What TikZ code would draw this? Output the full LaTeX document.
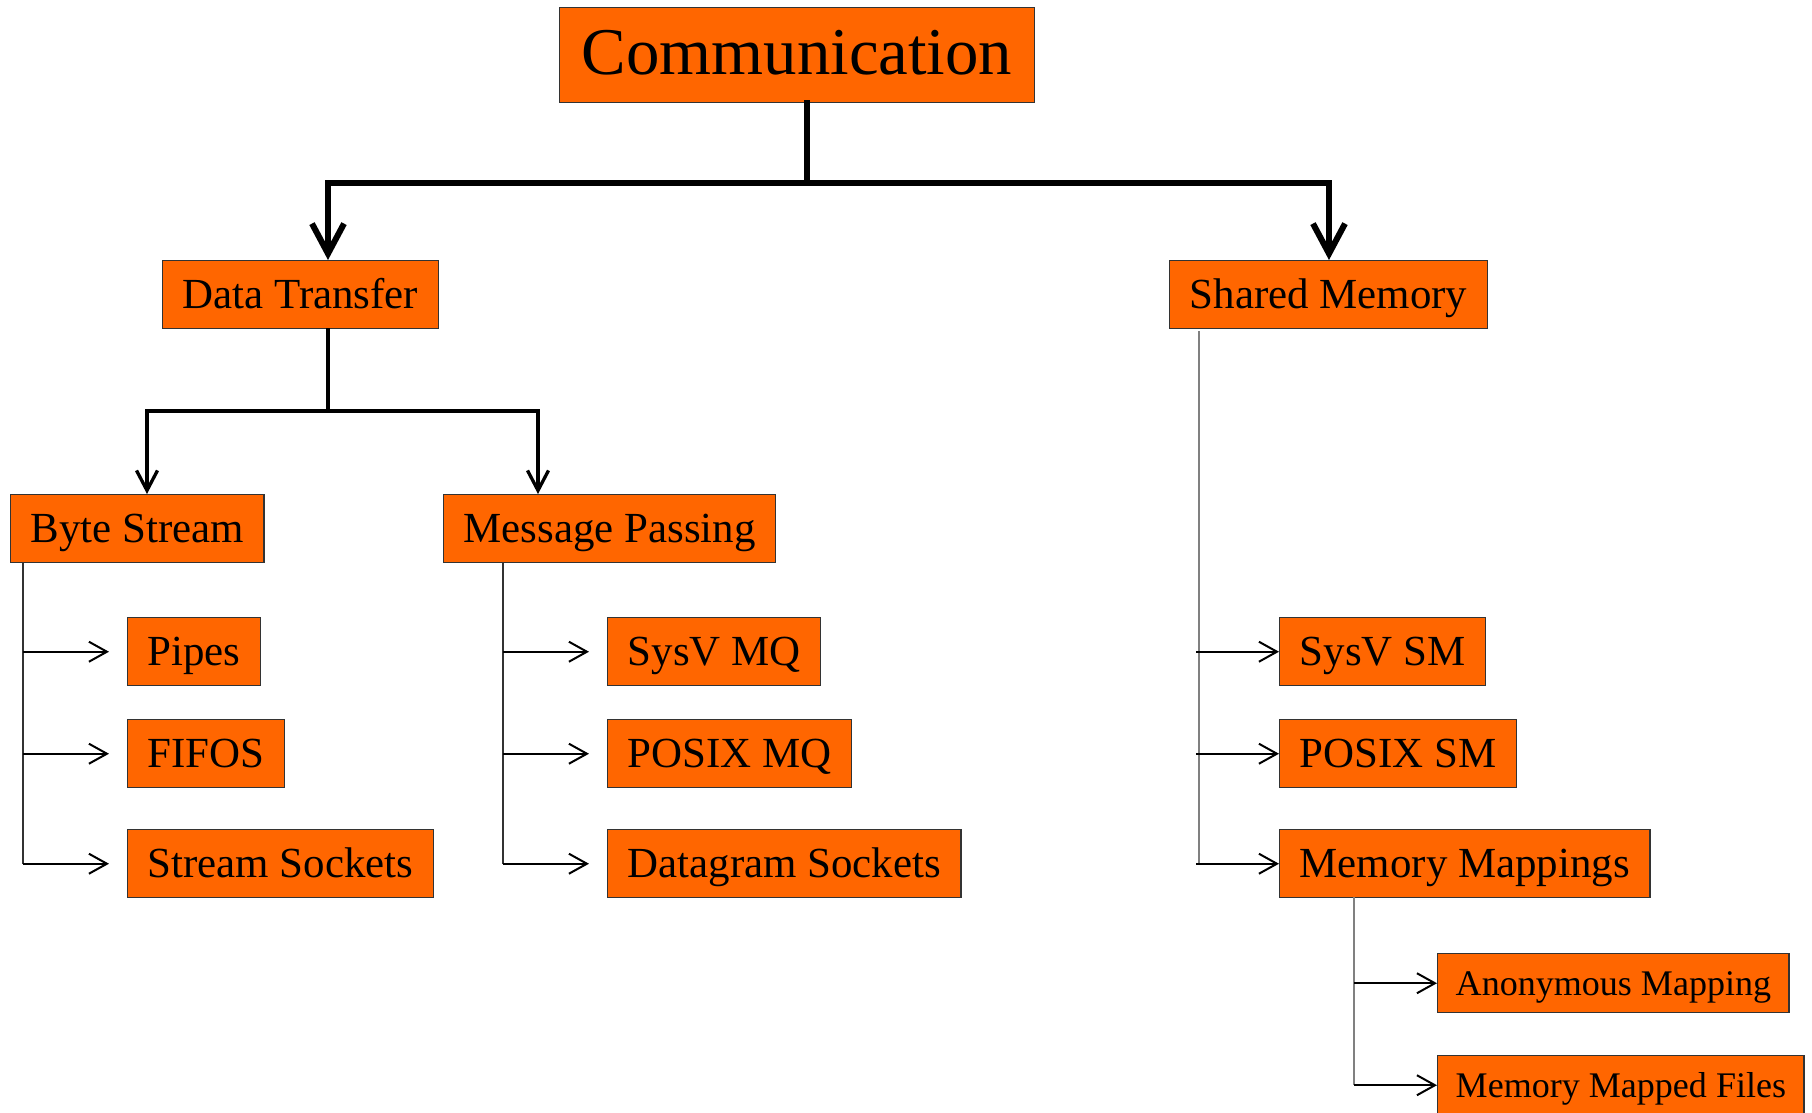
\documentclass[tikz,border=0pt]{standalone}
\usepackage{fontspec}
\setmainfont{Liberation Serif}
\usetikzlibrary{arrows.meta}
\definecolor{boxorange}{HTML}{FF6600}

\begin{document}
\begin{tikzpicture}[x=0.01cm,y=-0.01cm]
            \tikzset{box/.style = {draw=black!80, fill=boxorange, anchor=north west, inner xsep=0.2cm, inner ysep=0pt, text height=0.9em, text depth=0.1em, minimum height=0.68cm, font=\fontsize{12.2}{14}\selectfont}}
            \tikzset{bigbox/.style = {box, inner xsep=0.22cm, text height=1.17em, minimum height=0.95cm, font=\fontsize{19}{22}\selectfont}}
            \tikzset{smallbox/.style = {box, inner xsep=0.18cm, text height=0.8em, minimum height=0.59cm, font=\fontsize{10.25}{12}\selectfont}}
            \tikzset{trunk/.style = {draw=black, line width=0.06cm, line cap=rect}}
            \tikzset{fork/.style = {draw=black, line width=0.033cm, line cap=rect}}
            \tikzset{rail/.style = {draw=black!80, line width=0.011cm}}
            \tikzset{greyrail/.style = {draw=gray, line width=0.011cm}}
            \tikzset{twig/.style = {draw=black, line width=0.02cm, -{Straight Barb[length=0.18cm,width=0.2cm]}}}
            \useasboundingbox (0,0) rectangle (1812,1112);
            % vertices
            \node[bigbox] (comm) at (559,7) {Communication};
            \node[box] (dt) at (162,260) {Data Transfer};
            \node[box] (sm) at (1169,260) {Shared Memory};
            \node[box] (bs) at (10,494) {Byte Stream};
            \node[box] (mp) at (443,494) {Message Passing};
            \node[box] (pipes) at (127,617) {Pipes};
            \node[box] (fifos) at (127,719) {FIFOS};
            \node[box] (ssock) at (127,829) {Stream Sockets};
            \node[box] (svmq) at (607,617) {SysV MQ};
            \node[box] (pmq) at (607,719) {POSIX MQ};
            \node[box] (dsock) at (607,829) {Datagram Sockets};
            \node[box] (svsm) at (1279,617) {SysV SM};
            \node[box] (psm) at (1279,719) {POSIX SM};
            \node[box] (mm) at (1279,829) {Memory Mappings};
            \node[smallbox] (anon) at (1437,953) {Anonymous Mapping};
            \node[smallbox] (mmf) at (1437,1055) {Memory Mapped Files};
            % junctions
            \coordinate (top) at (807,183);
            \coordinate (topl) at (328,183);
            \coordinate (topr) at (1329,183);
            \coordinate (mid) at (328,411);
            \coordinate (midl) at (147,411);
            \coordinate (midr) at (538,411);
            \coordinate (bsrail) at (23,562);
            \coordinate (mprail) at (503,562);
            \coordinate (smrail) at (1199,331);
            \coordinate (mmrail) at (1354,897);
            % edges
            \draw[trunk] (comm.south -| top) to (top);
            \draw[trunk] (topl) to (topr);
            \draw[trunk,-{Straight Barb[length=0.3cm,width=0.32cm]}] (topl) to (topl |- dt.north);
            \draw[trunk,-{Straight Barb[length=0.3cm,width=0.32cm]}] (topr) to (topr |- sm.north);
            \draw[fork] (dt.south -| mid) to (mid);
            \draw[fork] (midl) to (midr);
            \draw[fork,-{Straight Barb[length=0.2cm,width=0.21cm]}] (midl) to (midl |- bs.north);
            \draw[fork,-{Straight Barb[length=0.2cm,width=0.21cm]}] (midr) to (midr |- mp.north);
            \draw[rail] (bsrail) to (bsrail |- ssock.west);
            \draw[twig,shorten >=0.18cm] (bsrail |- pipes.west) to (pipes.west);
            \draw[twig,shorten >=0.18cm] (bsrail |- fifos.west) to (fifos.west);
            \draw[twig,shorten >=0.18cm] (bsrail |- ssock.west) to (ssock.west);
            \draw[rail] (mprail) to (mprail |- dsock.west);
            \draw[twig,shorten >=0.18cm] (mprail |- svmq.west) to (svmq.west);
            \draw[twig,shorten >=0.18cm] (mprail |- pmq.west) to (pmq.west);
            \draw[twig,shorten >=0.18cm] (mprail |- dsock.west) to (dsock.west);
            \draw[greyrail] (smrail) to (smrail |- mm.west);
            \draw[twig] ([xshift=-0.03cm]smrail |- svsm.west) to (svsm.west);
            \draw[twig] ([xshift=-0.03cm]smrail |- psm.west) to (psm.west);
            \draw[twig] ([xshift=-0.03cm]smrail |- mm.west) to (mm.west);
            \draw[greyrail] (mmrail) to (mmrail |- mmf.west);
            \draw[twig] (mmrail |- anon.west) to (anon.west);
            \draw[twig] (mmrail |- mmf.west) to (mmf.west);
        \end{tikzpicture}
\end{document}
